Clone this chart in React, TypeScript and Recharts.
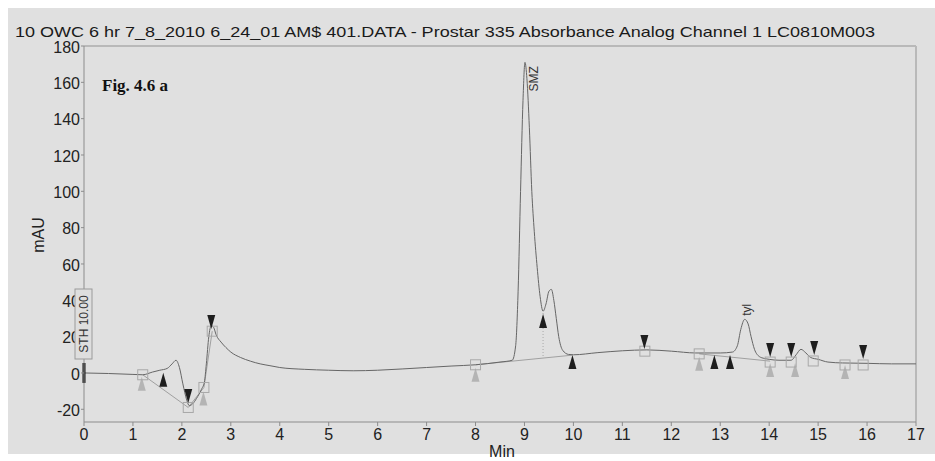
import { ComposedChart, Line, Scatter, XAxis, YAxis, ReferenceLine } from "recharts";

// Chromatogram: [time (min), absorbance (mAU)]
const trace: [number, number][] = [
  [0, 0], [0.5, -0.3], [1.0, -0.8], [1.2, -1], [1.4, 0.5], [1.55, 1.5], [1.7, 2.5], [1.8, 5],
  [1.88, 7], [1.95, 3], [2.02, -6], [2.1, -15], [2.15, -18], [2.22, -17], [2.3, -14], [2.4, -9],
  [2.46, -5], [2.5, 5], [2.55, 20], [2.6, 26], [2.65, 25], [2.7, 21], [2.8, 17], [2.9, 14],
  [3.0, 11.5], [3.2, 8.5], [3.4, 6.5], [3.6, 5], [3.8, 4], [4.0, 3], [4.5, 2], [5.0, 1.5],
  [5.5, 1.2], [6.0, 1.5], [6.5, 2.2], [7.0, 3], [7.5, 3.8], [8.0, 4.5], [8.5, 6], [8.75, 7],
  [8.82, 15], [8.87, 45], [8.92, 100], [8.97, 150], [9.01, 171], [9.05, 162], [9.1, 135], [9.15, 100],
  [9.2, 78], [9.26, 58], [9.32, 42], [9.38, 34], [9.44, 38], [9.5, 45], [9.55, 46], [9.6, 40],
  [9.65, 30], [9.7, 20], [9.78, 12.5], [9.9, 10.2], [10.0, 10], [10.5, 11.2], [11.0, 12.2], [11.5, 12.7],
  [12.0, 12], [12.5, 11], [13.0, 11], [13.25, 11.5], [13.35, 15], [13.42, 24], [13.5, 29.5], [13.57, 27],
  [13.63, 20], [13.7, 13], [13.8, 9], [13.9, 8], [14.0, 7.5], [14.2, 7], [14.45, 7], [14.55, 10],
  [14.65, 13], [14.75, 11], [14.85, 8.5], [15.0, 7.5], [15.2, 6], [15.5, 5.5], [16.0, 5.3], [16.5, 5],
  [17.0, 5],
];

// integration baselines and the valley drop line
const baselineA: [number, number][] = [[1.2, -1], [2.13, -19], [2.45, -8], [2.62, 23]];
const baselineB: [number, number][] = [[8.0, 4.5], [9.98, 9.8]];
const baselineC: [number, number][] = [[12.57, 10.5], [14.02, 6.5]];
const dropLine: [number, number][] = [[9.38, 33], [9.38, 8.5]];

// event markers
const squares: [number, number][] = [
  [1.2, -1], [2.13, -19], [2.45, -8], [2.62, 23], [8.0, 4.5], [11.46, 12],
  [12.57, 10.5], [14.02, 6], [14.45, 6], [14.9, 6.6], [15.55, 4.4], [15.92, 4.4],
];
const peakEnds: [number, number][] = [
  [2.13, -12.7], [2.6, 28], [11.45, 17], [14.02, 12.6], [14.45, 12.6], [14.92, 13.8], [15.92, 11.6],
];
const peakStarts: [number, number][] = [[1.62, -3.8], [9.38, 28.6], [9.98, 6], [12.88, 6], [13.2, 6]];
const baseMarks: [number, number][] = [
  [1.18, -6], [2.44, -14], [8.0, -1], [12.57, 5], [14.02, 1.6], [14.53, 1.6], [15.55, 0.5],
];
const peakNames: { t: number; v: number; name: string }[] = [
  { t: 9.19, v: 155, name: "SMZ" },
  { t: 13.55, v: 31.5, name: "tyl" },
];

const xTicks = [0, 1, 2, 3, 4, 5, 6, 7, 8, 9, 10, 11, 12, 13, 14, 15, 16, 17];
const yTicks = [-20, 0, 20, 40, 60, 80, 100, 120, 140, 160, 180];

const title = "10 OWC 6 hr 7_8_2010 6_24_01 AM$ 401.DATA - Prostar 335 Absorbance Analog Channel 1 LC0810M003";

const pts = (a: [number, number][]) => a.map(([t, v]) => ({ t, v }));

const sans = "'Liberation Sans', Arial, sans-serif";
const axisGray = "#8c8c8c";

const downTri = (fill: string) => (p: any) => (
  <polygon points={`${p.cx - 4},${p.cy - 7} ${p.cx + 4},${p.cy - 7} ${p.cx},${p.cy + 7}`} fill={fill} />
);
const upTri = (fill: string) => (p: any) => (
  <polygon points={`${p.cx - 4},${p.cy + 7} ${p.cx + 4},${p.cy + 7} ${p.cx},${p.cy - 7}`} fill={fill} />
);
const box = (p: any) => (
  <rect x={p.cx - 5} y={p.cy - 5} width={10} height={10} fill="none" stroke="#a8a8a8" strokeWidth={1} />
);
const peakLabel = (p: any) => (
  <text
    x={p.cx}
    y={p.cy}
    transform={`rotate(-90 ${p.cx} ${p.cy})`}
    dominantBaseline="central"
    fontSize={12}
    fontFamily={sans}
    fill="#333"
  >
    {p.payload.name}
  </text>
);

export default function App() {
  return (
    <div style={{ position: "relative", width: 935, height: 461, background: "#fff", overflow: "hidden" }}>
      <style>{"body{margin:0}"}</style>
      <div style={{ position: "absolute", left: 8, top: 8, width: 927, height: 446, background: "#e0e0e0" }} />
      <div style={{ position: "absolute", left: 0, top: 0 }}>
        <ComposedChart
          width={935}
          height={461}
          margin={{ top: 46, right: 19, bottom: 9, left: 24 }}
          accessibilityLayer={false}
        >
          <XAxis
            type="number"
            dataKey="t"
            domain={[0, 17]}
            ticks={xTicks}
            interval={0}
            height={30}
            allowDataOverflow
            axisLine={{ stroke: axisGray }}
            tickLine={{ stroke: axisGray }}
            tickSize={4}
            tickMargin={3}
            tick={{ fontSize: 16, fill: "#222", fontFamily: sans }}
          />
          <YAxis
            type="number"
            dataKey="v"
            domain={[-27, 180]}
            ticks={yTicks}
            interval={0}
            width={60}
            allowDataOverflow
            axisLine={{ stroke: axisGray }}
            tickLine={{ stroke: axisGray }}
            tickSize={3}
            tickMargin={1}
            tick={{ fontSize: 16, fill: "#222", fontFamily: sans, dy: 1 }}
          />
          <ReferenceLine y={180} stroke="#b9b9b9" strokeWidth={2} />
          <ReferenceLine x={17} stroke="#b9b9b9" strokeWidth={2} />
          <Line data={pts(baselineA)} dataKey="v" type="linear" stroke="#a0a0a0" strokeWidth={1} dot={false} activeDot={false} isAnimationActive={false} />
          <Line data={pts(baselineB)} dataKey="v" type="linear" stroke="#a0a0a0" strokeWidth={1} dot={false} activeDot={false} isAnimationActive={false} />
          <Line data={pts(baselineC)} dataKey="v" type="linear" stroke="#a0a0a0" strokeWidth={1} dot={false} activeDot={false} isAnimationActive={false} />
          <Line data={pts(dropLine)} dataKey="v" type="linear" stroke="#a8a8a8" strokeWidth={1} strokeDasharray="1 2" dot={false} activeDot={false} isAnimationActive={false} />
          <Line data={pts(trace)} dataKey="v" type="monotone" stroke="#666" strokeWidth={1} dot={false} activeDot={false} isAnimationActive={false} />
          <Scatter data={pts(baseMarks)} dataKey="v" shape={upTri("#b4b4b4")} isAnimationActive={false} />
          <Scatter data={pts(squares)} dataKey="v" shape={box} isAnimationActive={false} />
          <Scatter data={pts(peakStarts)} dataKey="v" shape={upTri("#1e1e1e")} isAnimationActive={false} />
          <Scatter data={pts(peakEnds)} dataKey="v" shape={downTri("#1e1e1e")} isAnimationActive={false} />
          <Scatter data={peakNames} dataKey="v" shape={peakLabel} isAnimationActive={false} />
          <ReferenceLine
            segment={[{ x: 0, y: -5.5 }, { x: 0, y: 5.5 }]}
            stroke="#111"
            strokeWidth={3}
            ifOverflow="visible"
          />
        </ComposedChart>
      </div>
      <svg width={935} height={461} style={{ position: "absolute", left: 0, top: 0, pointerEvents: "none" }}>
        <text x={15} y={37} fontSize={15} fontFamily={sans} fill="#1a1a1a" textLength={860} lengthAdjust="spacingAndGlyphs">
          {title}
        </text>
        <text x={102} y={91} fontSize={17} fontWeight="bold" fontFamily="'Liberation Serif', 'Times New Roman', serif" fill="#111">
          Fig. 4.6 a
        </text>
        <text x={38} y={235} fontSize={16} fontFamily={sans} fill="#222" textAnchor="middle" dominantBaseline="central" transform="rotate(-90 38 235)">
          mAU
        </text>
        <text x={502} y={457} fontSize={16} fontFamily={sans} fill="#222" textAnchor="middle">
          Min
        </text>
        <rect x={75} y={289} width={17} height={70} fill="#dedede" stroke="#9a9a9a" strokeWidth={1} />
        <text x={83.5} y={324} fontSize={12} fontFamily={sans} fill="#333" textAnchor="middle" dominantBaseline="central" transform="rotate(-90 83.5 324)">
          STH 10.00
        </text>
      </svg>
    </div>
  );
}
